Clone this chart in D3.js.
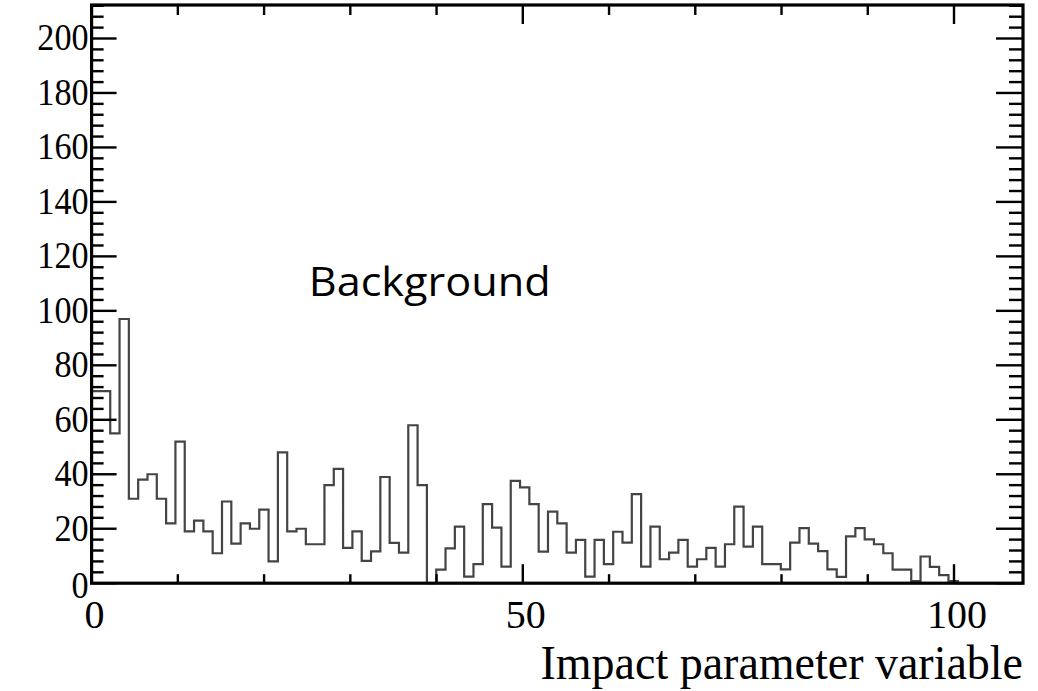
<!DOCTYPE html>
<html>
<head>
<meta charset="utf-8">
<script src="https://cdn.jsdelivr.net/npm/d3@7"></script>
<style>
  html, body { margin: 0; padding: 0; background: #fff; }
  svg { display: block; }
</style>
</head>
<body>
<div id="chart"></div>
<script>
// ---------------- data ----------------
const binCount = 100;
const xMin = 0;
const xMax = 108;
const counts = [
  70.5, 70.5, 55, 97, 31, 38, 40, 31, 22, 52,
  19, 23, 19, 11, 30, 14.5, 22, 20, 27, 8,
  48, 19, 20, 14.3, 14.3, 36, 42, 13, 19, 8.2,
  11.7, 39, 14.8, 11.2, 58, 36, 0, 5, 12.8, 20.8,
  2.4, 7, 29, 20.4, 6.1, 37.6, 35.2, 29, 11.6, 26.3,
  22, 11.2, 15.9, 2.4, 15.9, 7, 18.9, 14.9, 32.7, 6.1,
  20.8, 8.8, 11.2, 15.9, 6.1, 8.8, 13, 6.1, 14.3, 28.1,
  13.4, 20.8, 7, 7, 5.1, 14.9, 20.2, 14.5, 11.8, 5.1,
  2.3, 17.2, 20.2, 16.1, 14.3, 11, 5, 5, 0.8, 9.8,
  6, 3, 0.8, 0, 0, 0, 0, 0, 0, 0
];
const yMajorTicks = [0, 20, 40, 60, 80, 100, 120, 140, 160, 180, 200];
const yMinorStep = 4;
const xMajorTicks = [0, 50, 100];
const xMinorTicks = [10, 20, 30, 40, 60, 70, 80, 90];
const xTitle = "Impact parameter variable";
const annotation = "Background";

// ---------------- layout ----------------
const W = 1038, H = 691;
const pL = 91.6, pR = 1023, pT = 5, pB = 583.2;
const yMax = 212.3;

const svg = d3.select("#chart").append("svg")
  .attr("width", W).attr("height", H);

const x = d3.scaleLinear().domain([xMin, xMax]).range([pL, pR]);
const y = d3.scaleLinear().domain([0, yMax]).range([pB, pT]);

const binW = (xMax - xMin) / binCount;
const pts = counts.map((c, i) => [xMin + i * binW, c]);
pts.push([xMax, counts[counts.length - 1]]);

// histogram outline
const line = d3.line()
  .x(d => x(d[0]))
  .y(d => y(d[1]))
  .curve(d3.curveStepAfter);

svg.append("path")
  .datum(pts)
  .attr("d", line)
  .attr("fill", "none")
  .attr("stroke", "#444")
  .attr("stroke-width", 2.2);

// ---------------- ticks ----------------
const tickG = svg.append("g").attr("stroke", "#000").attr("stroke-width", 2.4);
const yMinor = d3.range(0, yMax, yMinorStep).filter(v => v % 20 !== 0);

yMajorTicks.forEach(v => {
  tickG.append("line").attr("x1", pL).attr("x2", pL + 25).attr("y1", y(v)).attr("y2", y(v));
  tickG.append("line").attr("x1", pR).attr("x2", pR - 27).attr("y1", y(v)).attr("y2", y(v));
});
yMinor.forEach(v => {
  tickG.append("line").attr("x1", pL).attr("x2", pL + 12).attr("y1", y(v)).attr("y2", y(v));
  tickG.append("line").attr("x1", pR).attr("x2", pR - 14).attr("y1", y(v)).attr("y2", y(v));
});
xMajorTicks.forEach(v => {
  tickG.append("line").attr("x1", x(v)).attr("x2", x(v)).attr("y1", pB).attr("y2", pB - 19);
  tickG.append("line").attr("x1", x(v)).attr("x2", x(v)).attr("y1", pT).attr("y2", pT + 19);
});
xMinorTicks.forEach(v => {
  tickG.append("line").attr("x1", x(v)).attr("x2", x(v)).attr("y1", pB).attr("y2", pB - 9);
  tickG.append("line").attr("x1", x(v)).attr("x2", x(v)).attr("y1", pT).attr("y2", pT + 10);
});

// frame
svg.append("rect")
  .attr("x", pL).attr("y", pT)
  .attr("width", pR - pL).attr("height", pB - pT)
  .attr("fill", "none").attr("stroke", "#000").attr("stroke-width", 3.2);

// ---------------- labels ----------------
const serif = "'Liberation Serif', 'Times New Roman', serif";

svg.append("g").selectAll("text")
  .data(yMajorTicks)
  .join("text")
  .attr("transform", d => `translate(${pL - 3},${y(d) + 12 + (d === 0 ? 3 : 0)}) scale(0.95,1.08)`)
  .attr("text-anchor", "end")
  .attr("font-family", serif)
  .attr("font-size", 36)
  .attr("fill", "#000")
  .text(d => d);

svg.append("g").selectAll("text")
  .data(xMajorTicks)
  .join("text")
  .attr("transform", d => `translate(${x(d) + 3},628) scale(1.08,1.06)`)
  .attr("text-anchor", "middle")
  .attr("font-family", serif)
  .attr("font-size", 37)
  .attr("fill", "#000")
  .text(d => d);

svg.append("text")
  .attr("transform", `translate(${pR},679) scale(1.0,1.04)`)
  .attr("text-anchor", "end")
  .attr("font-family", serif)
  .attr("font-size", 46)
  .attr("fill", "#000")
  .text(xTitle);

svg.append("text")
  .attr("transform", `translate(${x(39.2)},296) scale(1.08,1)`)
  .attr("text-anchor", "middle")
  .attr("font-family", "'Open Sans', 'Noto Sans', sans-serif")
  .attr("font-size", 40)
  .attr("fill", "#000")
  .text(annotation);
</script>
</body>
</html>
